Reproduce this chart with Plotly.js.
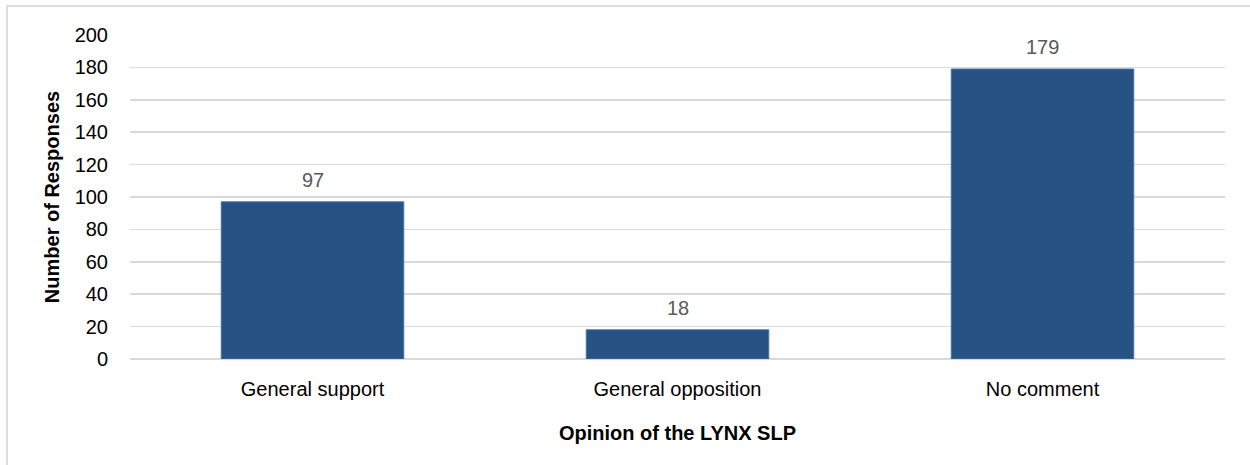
<!DOCTYPE html>
<html>
<head>
<meta charset="utf-8">
<script src="https://cdn.plot.ly/plotly-3.0.1.min.js"></script>
<style>
  html, body { margin: 0; padding: 0; background: #ffffff; overflow: hidden; }
  #frame { position: absolute; left: 6px; top: 5px; width: 1300px; height: 500px; border: 2px solid #dcdcdc; box-sizing: border-box; }
  #chart { position: absolute; left: 0; top: 0; width: 1250px; height: 465px; }
</style>
</head>
<body>
<div id="frame"></div>
<div id="chart"></div>
<script>
const categories = ["General support", "General opposition", "No comment"];
const responses = [97, 18, 179];
const yTicks = [0, 20, 40, 60, 80, 100, 120, 140, 160, 180, 200];

const FONT = "'Liberation Sans', Arial, sans-serif";

const trace = {
  type: "bar",
  x: categories,
  y: responses,
  width: 0.5,
  marker: { color: "#265284", line: { color: "#4a6fa0", width: 1 } },
  hoverinfo: "x+y"
};

const annotations = categories.map((c, i) => ({
  x: c,
  y: responses[i],
  xref: "x",
  yref: "y",
  text: String(responses[i]),
  showarrow: false,
  yanchor: "bottom",
  yshift: 9,
  font: { family: FONT, size: 20, color: "#595959" }
}));

const layout = {
  width: 1250,
  height: 465,
  margin: { l: 130, r: 25, t: 35, b: 106 },
  paper_bgcolor: "rgba(0,0,0,0)",
  plot_bgcolor: "rgba(0,0,0,0)",
  showlegend: false,
  bargap: 0.5,
  xaxis: {
    type: "category",
    tickfont: { family: FONT, size: 20, color: "#000000" },
    ticks: "outside",
    ticklen: 12,
    tickcolor: "rgba(0,0,0,0)",
    showline: false,
    showgrid: false,
    title: { text: "<b>Opinion of the LYNX SLP</b>", font: { family: FONT, size: 20, color: "#000000" }, standoff: 26 },
    automargin: false
  },
  yaxis: {
    range: [0, 200],
    tickvals: yTicks,
    ticktext: yTicks.map(String),
    tickfont: { family: FONT, size: 20, color: "#000000" },
    ticks: "outside",
    ticklen: 17,
    tickcolor: "rgba(0,0,0,0)",
    showgrid: true,
    gridcolor: "#d9d9d9",
    gridwidth: 1.5,
    zeroline: true,
    zerolinecolor: "#d9d9d9",
    zerolinewidth: 1.5,
    showline: false,
    title: { text: "<b>Number of Responses</b>", font: { family: FONT, size: 20, color: "#000000" }, standoff: 9 },
    automargin: false
  },
  annotations: annotations
};

Plotly.newPlot("chart", [trace], layout, { displayModeBar: false, staticPlot: true });
</script>
</body>
</html>
